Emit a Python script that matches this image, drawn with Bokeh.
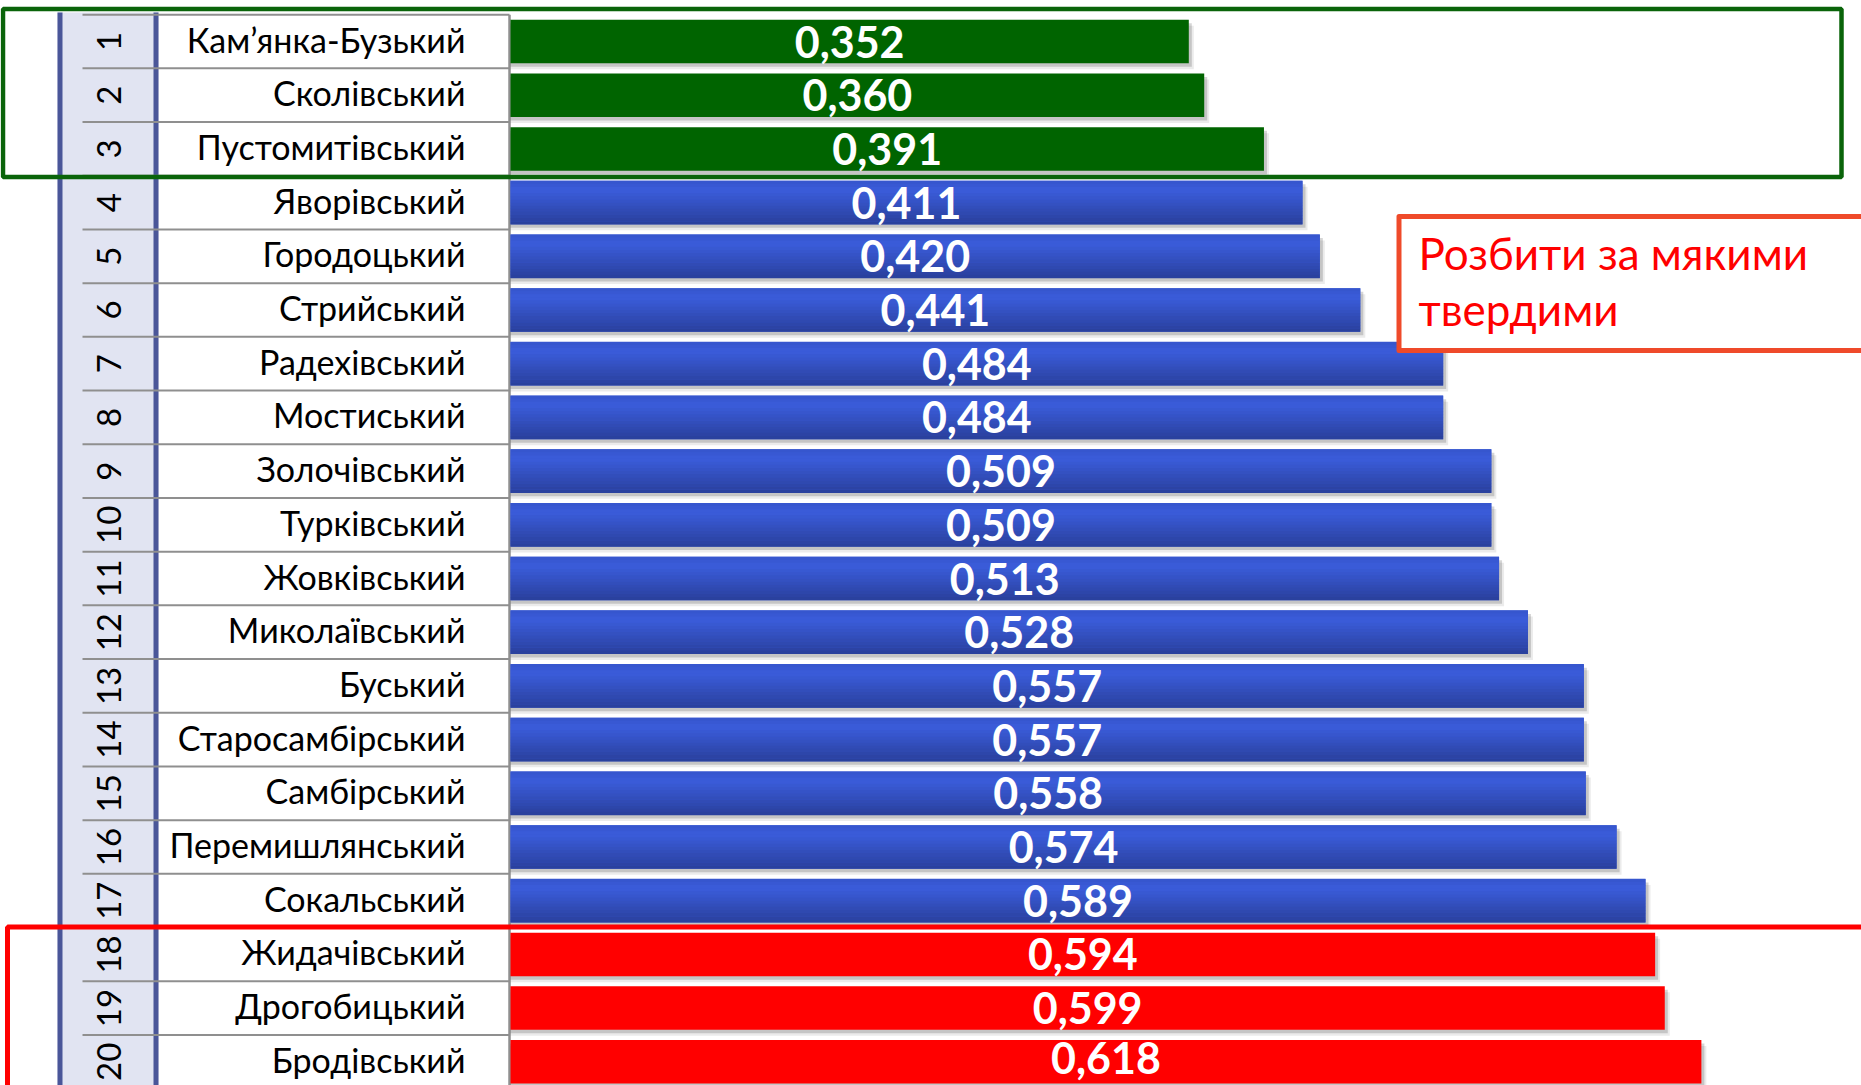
from bokeh.plotting import figure
from bokeh.models import ColumnDataSource, Range1d, CDSView, GroupFilter
from bokeh.transform import dodge
from bokeh.core.properties import value
from bokeh.embed import file_html
from bokeh.resources import INLINE
import math

# ---------------- data ----------------
ranks = [1, 2, 3, 4, 5, 6, 7, 8, 9, 10, 11, 12, 13, 14, 15, 16, 17, 18, 19, 20]
districts = [
    "Кам’янка-Бузький", "Сколівський", "Пустомитівський", "Яворівський",
    "Городоцький", "Стрийський", "Радехівський", "Мостиський",
    "Золочівський", "Турківський", "Жовківський", "Миколаївський",
    "Буський", "Старосамбірський", "Самбірський", "Перемишлянський",
    "Сокальський", "Жидачівський", "Дрогобицький", "Бродівський",
]
scores = [0.352, 0.360, 0.391, 0.411, 0.420, 0.441, 0.484, 0.484, 0.509, 0.509,
          0.513, 0.528, 0.557, 0.557, 0.558, 0.574, 0.589, 0.594, 0.599, 0.618]
groups = ["best", "best", "best",
          "middle", "middle", "middle", "middle", "middle", "middle", "middle",
          "middle", "middle", "middle", "middle", "middle", "middle", "middle",
          "worst", "worst", "worst"]
group_colors = {"best": "#006400", "middle": "#3858D2", "worst": "#FF0000"}
note_lines = ["Розбити за мякими", "твердими"]

# ---------------- layout (screen pixels of the window) ----------------
W, H = 1861, 1085
X0, SX = 510.0, 1927.0      # x pixel of value 0, pixels per unit
Y0, SY = 41.0, 53.7         # y pixel of row 1 centre, pixels per row


def xd(px):
    return (px - X0) / SX


def yd(py):
    return 1 + (py - Y0) / SY


score_labels = [f"{v:.3f}".replace(".", ",") for v in scores]
bar_colors = [group_colors[g] for g in groups]
label_x = [v / 2 for v in scores]
# keep value labels inside the picture (the last one is nudged up)
label_y = [min(r, yd(H - 28)) for r in ranks]

p = figure(width=W, height=H,
           x_range=Range1d(xd(0), xd(W)),
           y_range=Range1d(yd(H), yd(0)),
           output_backend="svg", toolbar_location=None,
           x_axis_location=None, y_axis_location=None, min_border=0)
p.grid.visible = False
p.outline_line_color = None
p.background_fill_color = "white"
p.border_fill_color = "white"

src = ColumnDataSource(dict(rank=ranks, district=districts, score=scores,
                            label=score_labels, label_x=label_x, label_y=label_y,
                            group=groups, color=bar_colors))

# ---------------- table at left ----------------
p.quad(left=[xd(57)], right=[xd(158)], top=[yd(12)], bottom=[yd(1100)],
       fill_color="#E1E4F2", line_color=None)
p.segment(x0=[xd(59.5), xd(155.5)], x1=[xd(59.5), xd(155.5)],
          y0=[yd(12), yd(12)], y1=[yd(1100), yd(1100)],
          line_color="#4A5699", line_width=5)

bounds = [r - 0.5 for r in ranks] + [ranks[-1] + 0.5]
p.segment(x0=[xd(82)] * len(bounds), x1=[xd(509)] * len(bounds),
          y0=bounds, y1=bounds, line_color="#8F8F8F", line_width=2)
p.segment(x0=[xd(509)], x1=[xd(509)], y0=[bounds[0]], y1=[yd(1100)],
          line_color="#8F8F8F", line_width=2.5)

# district names
p.text(x=xd(465), y=dodge("rank", -2.5 / SY, range=p.y_range), text="district",
       source=src, text_align="right", text_baseline="middle",
       text_font=value("Lato"), text_font_size="34px", text_color="#000000")

# rank numbers (rotated)
p.text(x=xd(108), y="rank", text="rank", source=src, angle=math.pi / 2,
       text_align="center", text_baseline="middle",
       text_font=value("Lato"), text_font_size="33px", text_color="#000000")

# ---------------- bars ----------------
BH = 43.5 / SY
# shadows
p.hbar(y=dodge("rank", 6 / SY, range=p.y_range), height=BH,
       left=0, right=dodge("score", 5 / SX, range=p.x_range), source=src,
       fill_color="#000000", fill_alpha=0.08, line_color=None)
p.hbar(y=dodge("rank", 3.5 / SY, range=p.y_range), height=BH,
       left=0, right=dodge("score", 3 / SX, range=p.x_range), source=src,
       fill_color="#000000", fill_alpha=0.16, line_color=None)

# base bars
p.hbar(y="rank", height=BH, left=0, right="score", source=src,
       fill_color="color", line_color=None)

# gradient on the blue bars
blue_view = CDSView(filter=GroupFilter(column_name="group", group="middle"))
mid_c = (0x3B, 0x5D, 0xDB)
bot_c = (0x2A, 0x40, 0x9C)
N = 14
for k in range(N):
    t = (k + 0.5) / N
    if t < 0.22:
        c = [int(a + (b - a) * (t / 0.22)) for a, b in zip((0x36, 0x55, 0xCC), mid_c)]
    else:
        u = (t - 0.22) / 0.78
        c = [int(a + (b - a) * u) for a, b in zip(mid_c, bot_c)]
    col = "#%02x%02x%02x" % tuple(c)
    off = -BH / 2 + (k + 0.5) * BH / N
    p.hbar(y=dodge("rank", off, range=p.y_range), height=BH / N + 0.004,
           left=0, right="score", source=src, view=blue_view,
           fill_color=col, line_color=None)

# value labels
p.text(x="label_x", y="label_y",
       text="label", source=src, text_align="center", text_baseline="middle",
       text_font=value("Lato"), text_font_style="bold", text_font_size="43px",
       text_color="white")

# ---------------- highlight frames ----------------
p.quad(left=[xd(2.5)], right=[xd(1841)], top=[yd(8.5)], bottom=[yd(176.5)],
       fill_color=None, line_color="#0A640A", line_width=4.5)
p.quad(left=[xd(7)], right=[xd(1900)], top=[yd(926.5)], bottom=[yd(1100)],
       fill_color=None, line_color="#FF0000", line_width=5)

# note box
p.quad(left=[xd(1398.5)], right=[xd(1900)], top=[yd(216)], bottom=[yd(350)],
       fill_color="white", line_color="#EF4A2A", line_width=5, line_join="round")
p.text(x=[xd(1418), xd(1418)], y=[yd(252.5), yd(308.5)], text=note_lines,
       text_align="left", text_baseline="middle",
       text_font=value("Lato"), text_font_size="44px", text_color="#FF0000")

open("out.html", "w").write(file_html(p, INLINE))
